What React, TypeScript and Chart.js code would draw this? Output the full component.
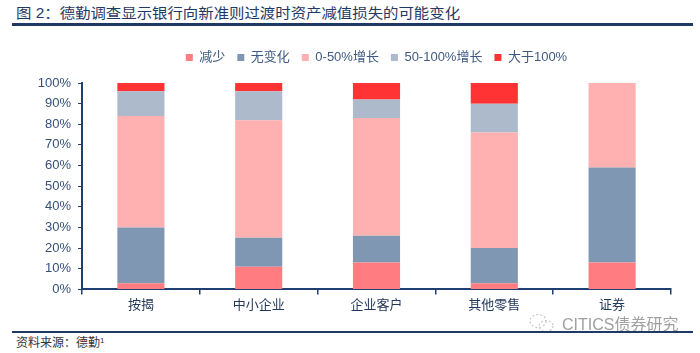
import React, { useEffect, useRef } from "react";
import { Chart, registerables } from "chart.js";

Chart.register(...registerables);

const categories = ["按揭", "中小企业", "企业客户", "其他零售", "证券"];
const seriesNames = ["减少", "无变化", "0-50%增长", "50-100%增长", "大于100%"];
const decrease = [3, 11, 13, 3, 13];
const noChange = [27, 14, 13, 17, 46];
const up0to50 = [54, 57, 57, 56, 41];
const up50to100 = [12, 14, 9, 14, 0];
const over100 = [4, 4, 8, 10, 0];
const seriesValues = [decrease, noChange, up0to50, up50to100, over100];
const seriesColors = ["#FF7C80", "#8097B3", "#FFB0B0", "#ADBACC", "#FF3333"];

const AXIS = "#1F3F73";
const FONT = '"Liberation Sans", "Noto Sans CJK SC", Arial, sans-serif';

export default function App() {
  const ref = useRef<HTMLCanvasElement>(null);

  useEffect(() => {
    const chart = new Chart(ref.current!, {
      type: "bar",
      data: {
        labels: categories,
        datasets: seriesNames.map((name, i) => ({
          label: name,
          data: seriesValues[i],
          backgroundColor: seriesColors[i],
          borderWidth: 0,
          barPercentage: 0.4,
          categoryPercentage: 1,
          xAxisID: "x",
          yAxisID: "y",
        })),
      },
      options: {
        responsive: false,
        animation: false,
        devicePixelRatio: 1,
        font: { family: FONT },
        layout: { padding: { left: 37, right: 29, top: 0, bottom: 0 } },
        plugins: {
          legend: {
            position: "top",
            fullSize: false,
            labels: {
              boxWidth: 7,
              boxHeight: 7,
              padding: 12,
              color: "#3E5A84",
              font: { size: 13, family: FONT },
            },
          },
          tooltip: { enabled: false },
        },
        scales: {
          xTop: {
            type: "category",
            position: "top",
            display: true,
            grid: { display: false, drawTicks: false },
            border: { display: false },
            ticks: { display: false },
            afterFit: (s: any) => {
              s.height = 9;
            },
          },
          x: {
            stacked: true,
            offset: true,
            position: "bottom",
            grid: {
              display: true,
              drawOnChartArea: false,
              offset: true,
              tickLength: 5,
              color: AXIS,
              lineWidth: 1.5,
            },
            border: { color: AXIS, width: 2 },
            ticks: { color: "#23395B", font: { size: 13, family: FONT }, padding: 3 },
          },
          y: {
            stacked: true,
            min: 0,
            max: 100,
            position: "left",
            grid: { drawOnChartArea: false, tickLength: 4, color: AXIS, lineWidth: 1 },
            border: { color: AXIS, width: 2 },
            ticks: {
              stepSize: 10,
              padding: 7,
              color: "#34507A",
              font: { size: 13, family: FONT },
              callback: (v: any) => v + "%",
            },
            afterFit: (s: any) => {
              s.width = 45;
            },
          },
        },
      } as any,
    });
    return () => chart.destroy();
  }, []);

  return (
    <div
      style={{
        position: "absolute",
        left: 0,
        top: 0,
        width: 700,
        height: 353,
        background: "#fff",
        fontFamily: FONT,
        overflow: "hidden",
      }}
    >
      <div
        style={{
          position: "absolute",
          left: 16,
          top: 4,
          fontSize: 14,
          lineHeight: "19px",
          color: "#1F3864",
          whiteSpace: "nowrap",
          transform: "scaleX(1.1)",
          transformOrigin: "left center",
        }}
      >
        图 2：德勤调查显示银行向新准则过渡时资产减值损失的可能变化
      </div>
      <div style={{ position: "absolute", left: 12, top: 23, width: 681, height: 3, background: "#1F3864" }} />
      <canvas
        ref={ref}
        width={700}
        height={277}
        style={{ position: "absolute", left: 0, top: 39, width: 700, height: 277 }}
      />
      <div
        style={{
          position: "absolute",
          left: 528,
          top: 311,
          display: "flex",
          alignItems: "center",
          color: "#A0A0A0",
          fontSize: 16,
          whiteSpace: "nowrap",
        }}
      >
        <svg width="28" height="22" viewBox="0 0 28 22" style={{ marginRight: 6 }}>
          <ellipse cx="10" cy="9" rx="8" ry="6.5" fill="none" stroke="#C8C8C8" strokeWidth="1.2" strokeDasharray="2 2" />
          <ellipse cx="18" cy="14" rx="7" ry="5.5" fill="none" stroke="#C8C8C8" strokeWidth="1.2" strokeDasharray="2 2" />
        </svg>
        CITICS债券研究
      </div>
      <div style={{ position: "absolute", left: 12, top: 331, width: 681, height: 2, background: "#1F3864" }} />
      <div
        style={{
          position: "absolute",
          left: 16,
          top: 336,
          fontSize: 12,
          lineHeight: "15px",
          color: "#333",
          whiteSpace: "nowrap",
        }}
      >
        资料来源：德勤<sup style={{ fontSize: 8, verticalAlign: "top", lineHeight: "10px" }}>1</sup>
      </div>
    </div>
  );
}
